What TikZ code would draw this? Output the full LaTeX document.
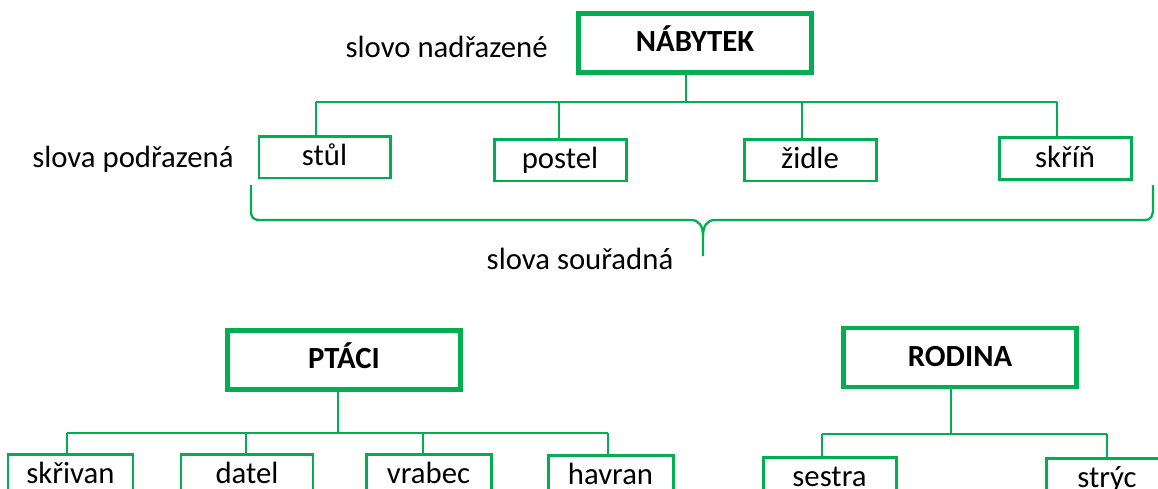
\documentclass[tikz,border=0pt]{standalone}
\usepackage{fontspec}
\setmainfont{Carlito}
\definecolor{leafgreen}{HTML}{00B050}

\begin{document}
\begin{tikzpicture}[x=0.02cm, y=-0.02cm,
    font=\fontsize{17.5}{21}\selectfont,
    link/.style={leafgreen, line width=1.3pt},
    root/.style={draw=leafgreen, line width=2.5pt, font=\fontsize{17.5}{21}\selectfont\bfseries,
      minimum width=4.66cm, minimum height=1.18cm, inner sep=0pt,
      text height=13pt, text depth=3pt},
    leaf/.style={draw=leafgreen, line width=1.7pt, minimum height=0.84cm, inner sep=0pt,
      text height=13pt, text depth=3pt}
  ]
  \useasboundingbox (0,0) rectangle (1158,488);
  \clip (0,0) rectangle (1158,488);

  % Define coordinates
  \coordinate (nabytek-s) at (686,102);
  \coordinate (ptaci-s) at (338,433);
  \coordinate (rodina-s) at (951,434);

  % Draw parent boxes
  \node[root] (nabytek) at (695,43) {NÁBYTEK};
  \node[root] (ptaci) at (344,360) {PTÁCI};
  \node[root] (rodina) at (960,357.5) {RODINA};

  \foreach \p in {nabytek,ptaci,rodina} {
    \draw[link] (\p.south -| \p-s) -- (\p-s);
  }

  % Child boxes: name/text/x/y/width/stem x/bus y
  \foreach \nm/\txt/\x/\y/\w/\s/\b in {
      stul/stůl/324.5/157/131/316/102,
      postel/postel/560/160/132/559/102,
      zidle/židle/810/160/132/802/102,
      skrin/skříň/1065/158.5/132/1057/102,
      skrivan/skřivan/70.5/475/125/67/433,
      datel/datel/247/475/132/246/433,
      vrabec/vrabec/428.5/475/125/423/433,
      havran/havran/610.5/476/125/608/433,
      sestra/sestra/829.5/478/133/822/434,
      stryc/strýc/1107/479/122/1107/434} {
    \node[leaf, minimum width=\w*0.02cm] (\nm) at (\x,\y) {\txt};
    \coordinate (\nm-s) at (\s,\b);
    \draw[link] (\nm-s) -- (\nm-s |- \nm.north);
  }

  % Horizontal bars
  \draw[link] (stul-s) -- (skrin-s);
  \draw[link] (skrivan-s) -- (havran-s);
  \draw[link] (sestra-s) -- (stryc-s);

  % Labels
  \node[anchor=base east, inner sep=0pt] (nadrazene) at (548,57) {slovo nadřazené};
  \node[anchor=base west, inner sep=0pt] (podrazena) at (32,167) {slova podřazená};
  \node[anchor=base, inner sep=0pt] (souradna) at (580,269) {slova souřadná};

  % Brace under the children
  \coordinate (braceL) at (251,185);
  \coordinate (braceR) at (1153,185);
  \coordinate (braceT) at (703,256);
  \draw[link] (braceL) -- (251,210) .. controls (251,218) and (253,220) .. (261,220)
    -- (691,220) .. controls (699,220) and (703,226) .. (703,236) -- (braceT);
  \draw[link] (703,236) .. controls (703,226) and (707,220) .. (715,220)
    -- (1145,220) .. controls (1151,220) and (1153,216) .. (1153,208) -- (braceR);

\end{tikzpicture}
\end{document}
